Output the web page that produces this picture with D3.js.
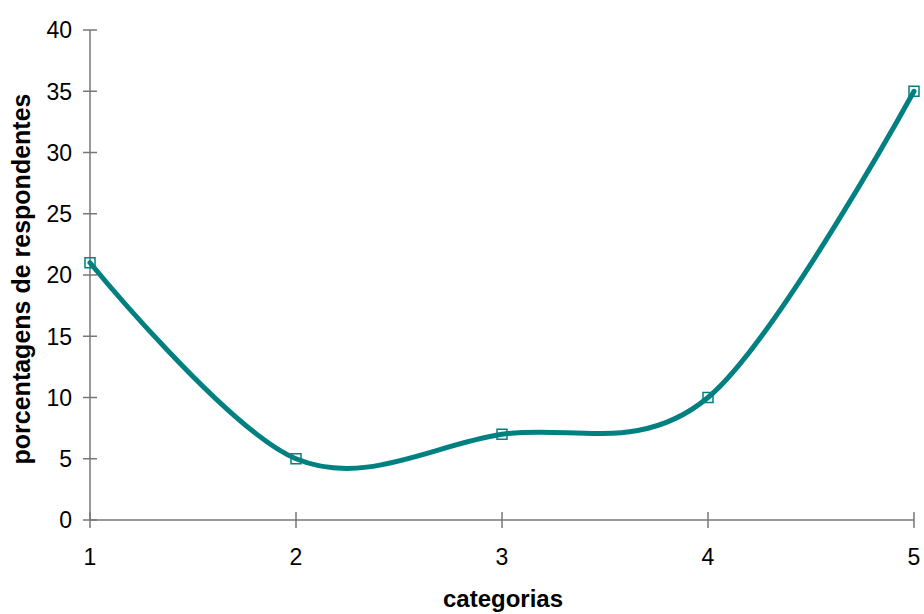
<!DOCTYPE html>
<html>
<head>
<meta charset="utf-8">
<script src="https://cdn.jsdelivr.net/npm/d3@7"></script>
<style>
  html, body { margin: 0; padding: 0; background: #fff; }
  svg { display: block; font-family: "Liberation Sans", Arial, sans-serif; }
</style>
</head>
<body>
<svg id="chart" width="924" height="614"></svg>
<script>
// Survey share per category
const categories = [1, 2, 3, 4, 5];
const values = [21, 5, 7, 10, 35];
const yTicks = [0, 5, 10, 15, 20, 25, 30, 35, 40];
const xLabel = "categorias";
const yLabel = "porcentagens de respondentes";

const svg = d3.select("#chart");
const x = d3.scaleLinear().domain([1, 5]).range([90, 914]);
const y = d3.scaleLinear().domain([0, 40]).range([520, 30]);
const axisColor = "#777";

// Y axis: line, crossing ticks, labels
svg.append("line")
  .attr("x1", x(1)).attr("x2", x(1))
  .attr("y1", y(40)).attr("y2", y(0))
  .attr("stroke", axisColor).attr("stroke-width", 1.5);
const yt = svg.append("g").selectAll("g").data(yTicks).join("g")
  .attr("transform", d => `translate(0,${y(d)})`);
yt.append("line").attr("x1", x(1) - 7).attr("x2", x(1) + 7)
  .attr("stroke", axisColor).attr("stroke-width", 1.5);
yt.append("text").attr("x", 72).attr("dy", "0.36em")
  .attr("text-anchor", "end").attr("font-size", 23).attr("fill", "#000")
  .text(d => d);

// X axis
svg.append("line")
  .attr("x1", x(1)).attr("x2", x(5))
  .attr("y1", y(0)).attr("y2", y(0))
  .attr("stroke", axisColor).attr("stroke-width", 1.5);
const xt = svg.append("g").selectAll("g").data(categories).join("g")
  .attr("transform", d => `translate(${x(d)},${y(0)})`);
xt.append("line").attr("y1", -8).attr("y2", 8)
  .attr("stroke", axisColor).attr("stroke-width", 1.5);
xt.append("text").attr("y", 45)
  .attr("text-anchor", "middle").attr("font-size", 23).attr("fill", "#000")
  .text(d => d);

// Axis titles
svg.append("text").attr("x", 503).attr("y", 607)
  .attr("text-anchor", "middle").attr("font-size", 24).attr("font-weight", "bold")
  .text(xLabel);
svg.append("text")
  .attr("transform", `translate(30,279) rotate(-90)`)
  .attr("text-anchor", "middle").attr("font-size", 25).attr("font-weight", "bold")
  .text(yLabel);

// Smoothed series line
const pts = categories.map((c, i) => [c, values[i]]);
const line = d3.line()
  .x(d => x(d[0])).y(d => y(d[1]))
  .curve(d3.curveCardinal.tension(0));
svg.append("path").datum(pts)
  .attr("d", line)
  .attr("fill", "none").attr("stroke", "#008080")
  .attr("stroke-width", 5).attr("stroke-linejoin", "round").attr("stroke-linecap", "round");

// Square markers
svg.append("g").selectAll("rect").data(pts).join("rect")
  .attr("x", d => x(d[0]) - 5).attr("y", d => y(d[1]) - 5)
  .attr("width", 10).attr("height", 10)
  .attr("fill", "none").attr("stroke", "#008080").attr("stroke-width", 1.5);
</script>
</body>
</html>
